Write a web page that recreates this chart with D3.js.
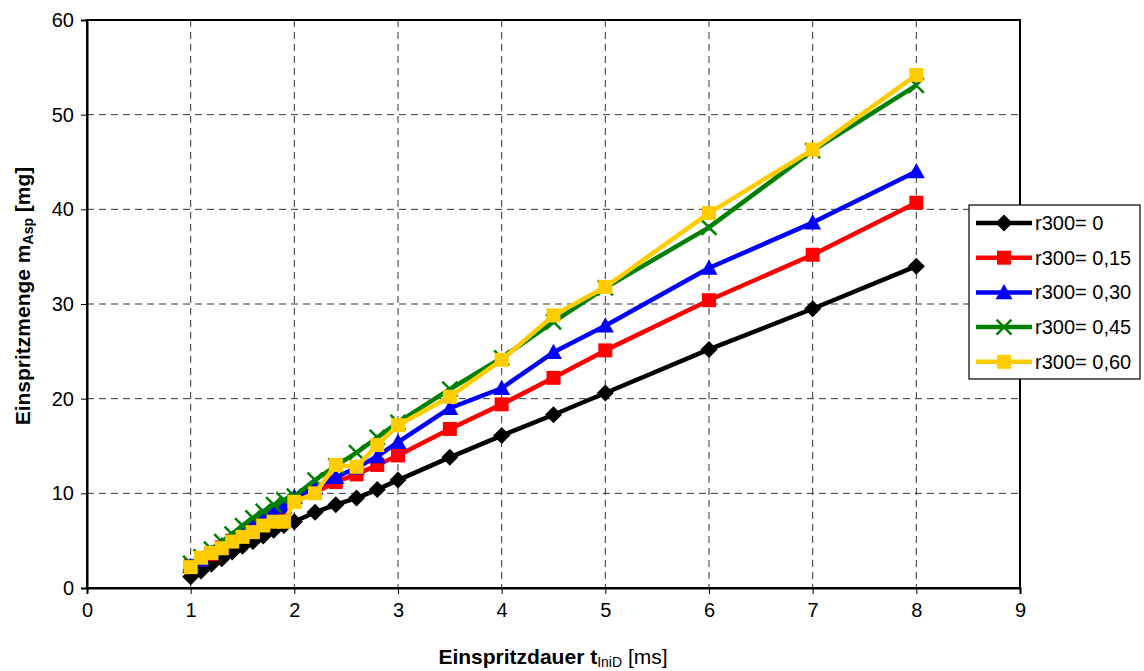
<!DOCTYPE html>
<html>
<head>
<meta charset="utf-8">
<script src="https://cdn.jsdelivr.net/npm/d3@7"></script>
<style>
  html, body { margin: 0; padding: 0; background: #fff; }
  svg { display: block; font-family: "Liberation Sans", Arial, sans-serif; }
</style>
</head>
<body>
<svg id="chart" width="1144" height="671"></svg>
<script>
// Injection duration [ms]
const durations = [1.0, 1.1, 1.2, 1.3, 1.4, 1.5, 1.6, 1.7, 1.8, 1.9, 2.0,
                   2.2, 2.4, 2.6, 2.8, 3.0, 3.5, 4.0, 4.5, 5.0, 6.0, 7.0, 8.0];

// Injected mass [mg] per r300 setting
const r000 = [1.2, 1.8, 2.5, 3.1, 3.8, 4.4, 4.9, 5.5, 6.1, 6.6, 7.0,
              8.0, 8.8, 9.5, 10.4, 11.4, 13.8, 16.1, 18.3, 20.6, 25.2, 29.5, 34.0];
const r015 = [2.3, 3.0, 3.6, 4.3, 5.0, 5.6, 6.2, 6.8, 7.4, 8.0, 9.2,
              10.1, 11.2, 12.0, 13.0, 14.0, 16.8, 19.4, 22.2, 25.1, 30.4, 35.2, 40.7];
const r030 = [2.3, 3.0, 3.7, 4.5, 5.2, 6.0, 6.6, 7.4, 8.1, 8.6, 9.6,
              10.6, 11.7, 12.7, 13.9, 15.4, 19.0, 21.1, 24.9, 27.7, 33.8, 38.6, 44.0];
const r045 = [2.6, 3.3, 4.1, 4.9, 5.7, 6.6, 7.4, 8.1, 8.8, 9.3, 9.7,
              11.4, 12.9, 14.3, 15.9, 17.5, 21.0, 24.3, 28.1, 31.7, 38.1, 46.2, 53.1];
const r060 = [2.2, 3.2, 3.7, 4.2, 4.9, 5.4, 5.9, 6.6, 7.0, 7.0, 9.1,
              10.0, 13.0, 12.8, 15.1, 17.2, 20.2, 24.1, 28.8, 31.8, 39.6, 46.3, 54.2];

const seriesNames = ["r300= 0", "r300= 0,15", "r300= 0,30", "r300= 0,45", "r300= 0,60"];
const seriesValues = [r000, r015, r030, r045, r060];
const seriesColors = ["#000000", "#ff0000", "#0000ff", "#008000", "#ffcc00"];
const seriesMarkers = ["diamond", "square", "triangle", "cross", "square"];

const xTicks = [0, 1, 2, 3, 4, 5, 6, 7, 8, 9];
const yTicks = [0, 10, 20, 30, 40, 50, 60];

const svg = d3.select("#chart");
const plot = { left: 87, top: 20, right: 1020, bottom: 588 };

const x = d3.scaleLinear().domain([0, 9]).range([plot.left, plot.right]);
const y = d3.scaleLinear().domain([0, 60]).range([plot.bottom, plot.top]);

// Dashed grid
const grid = svg.append("g");
grid.selectAll("line.v").data(xTicks.slice(1, -1)).join("line")
  .attr("x1", d => x(d)).attr("x2", d => x(d))
  .attr("y1", plot.top).attr("y2", plot.bottom)
  .attr("stroke", "#333").attr("stroke-width", 1).attr("stroke-dasharray", "7,5");
grid.selectAll("line.h").data(yTicks.slice(1, -1)).join("line")
  .attr("x1", plot.left).attr("x2", plot.right)
  .attr("y1", d => y(d)).attr("y2", d => y(d))
  .attr("stroke", "#333").attr("stroke-width", 1).attr("stroke-dasharray", "7,5");

// Plot frame
svg.append("rect")
  .attr("x", plot.left).attr("y", plot.top)
  .attr("width", plot.right - plot.left).attr("height", plot.bottom - plot.top)
  .attr("fill", "none").attr("stroke", "#000").attr("stroke-width", 2);

// Axes
const xAxis = svg.append("g").attr("transform", `translate(0,${plot.bottom})`)
  .call(d3.axisBottom(x).tickValues(xTicks).tickSize(6).tickPadding(9).tickFormat(d3.format("d")));
const yAxis = svg.append("g").attr("transform", `translate(${plot.left},0)`)
  .call(d3.axisLeft(y).tickValues(yTicks).tickSize(6).tickPadding(7).tickFormat(d3.format("d")));
[xAxis, yAxis].forEach(a => {
  a.select(".domain").attr("stroke", "#000").attr("stroke-width", 2);
  a.selectAll(".tick line").attr("stroke", "#000");
  a.selectAll(".tick text").attr("font-size", 20).attr("fill", "#000")
    .attr("font-family", "'Liberation Sans', Arial, sans-serif");
});

// Marker drawing
function drawMarker(g, type, color, cx, cy) {
  if (type === "diamond") {
    const s = 8.5;
    g.append("path").attr("d", `M${cx},${cy - s}L${cx + s},${cy}L${cx},${cy + s}L${cx - s},${cy}Z`)
      .attr("fill", color);
  } else if (type === "square") {
    const s = 7;
    g.append("rect").attr("x", cx - s).attr("y", cy - s).attr("width", 2 * s).attr("height", 2 * s)
      .attr("fill", color);
  } else if (type === "triangle") {
    const s = 8.5;
    g.append("path").attr("d", `M${cx},${cy - s}L${cx + s},${cy + s * 0.8}L${cx - s},${cy + s * 0.8}Z`)
      .attr("fill", color);
  } else if (type === "cross") {
    const s = 7.5;
    g.append("path").attr("d", `M${cx - s},${cy - s}L${cx + s},${cy + s}M${cx - s},${cy + s}L${cx + s},${cy - s}`)
      .attr("stroke", color).attr("stroke-width", 2.5).attr("fill", "none");
  }
}

const line = d3.line().x(d => x(d[0])).y(d => y(d[1]));

seriesValues.forEach((vals, i) => {
  const pts = durations.map((t, k) => [t, vals[k]]);
  const g = svg.append("g");
  g.append("path").datum(pts).attr("d", line)
    .attr("fill", "none").attr("stroke", seriesColors[i]).attr("stroke-width", 4.5)
    .attr("stroke-linejoin", "round");
  pts.forEach(p => drawMarker(g, seriesMarkers[i], seriesColors[i], x(p[0]), y(p[1])));
});

// Legend
const lg = svg.append("g");
const lgBox = { x: 969, y: 205, w: 171, h: 174 };
lg.append("rect").attr("x", lgBox.x).attr("y", lgBox.y).attr("width", lgBox.w).attr("height", lgBox.h)
  .attr("fill", "#fff").attr("stroke", "#000").attr("stroke-width", 1.2);
seriesNames.forEach((name, i) => {
  const cy = 223 + i * 34.7;
  lg.append("line").attr("x1", 976).attr("x2", 1032).attr("y1", cy).attr("y2", cy)
    .attr("stroke", seriesColors[i]).attr("stroke-width", 4.5);
  drawMarker(lg, seriesMarkers[i], seriesColors[i], 1004, cy);
  lg.append("text").attr("x", 1035).attr("y", cy + 7).attr("font-size", 20).attr("fill", "#000")
    .text(name);
});

// Axis titles
const xt = svg.append("text").attr("x", 553).attr("y", 664).attr("text-anchor", "middle")
  .attr("font-size", 21).attr("fill", "#000");
xt.append("tspan").attr("font-weight", "bold").text("Einspritzdauer t");
xt.append("tspan").attr("font-size", 14).attr("dy", 3).text("IniD");
xt.append("tspan").attr("dy", -3).text(" [ms]");

const yt = svg.append("text").attr("transform", "translate(30,296) rotate(-90)")
  .attr("text-anchor", "middle").attr("font-size", 21).attr("font-weight", "bold").attr("fill", "#000");
yt.append("tspan").text("Einspritzmenge m");
yt.append("tspan").attr("font-size", 14).attr("dy", 3).text("Asp");
yt.append("tspan").attr("dy", -3).text(" [mg]");
</script>
</body>
</html>
